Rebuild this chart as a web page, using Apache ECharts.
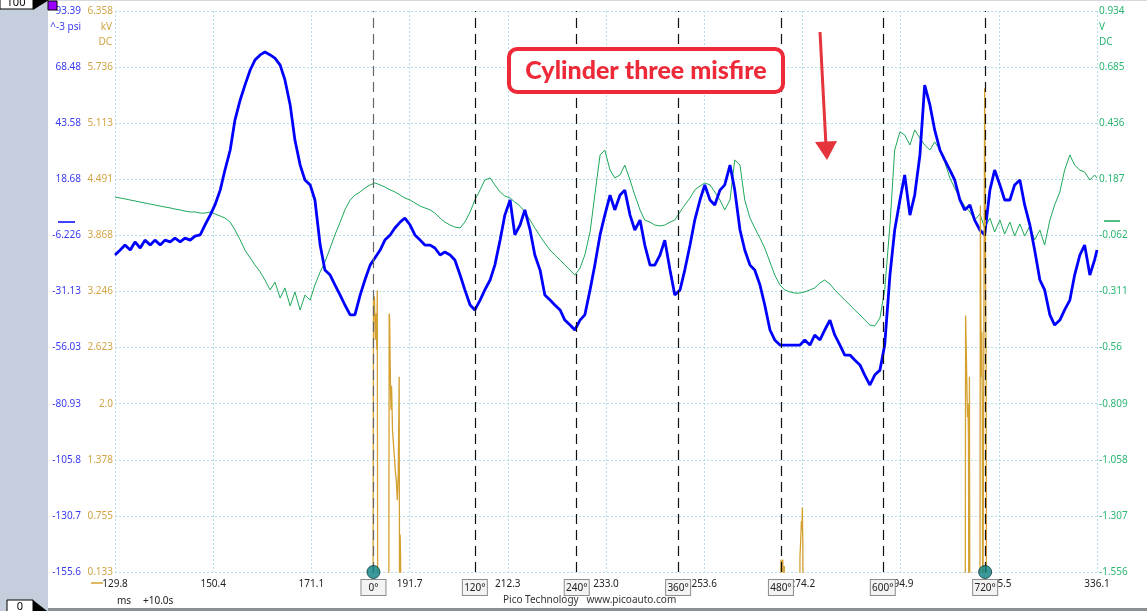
<!DOCTYPE html>
<html>
<head>
<meta charset="utf-8">
<script src="https://cdn.jsdelivr.net/npm/echarts@6/dist/echarts.min.js"></script>
<style>
html,body{margin:0;padding:0;background:#fff;}
#c{width:1147px;height:611px;}
</style>
</head>
<body>
<div id="c"></div>
<script>
// ---------- DATA ----------
const xTickLabels = ['129.8','150.4','171.1','191.7','212.3','233.0','253.6','274.2','294.9','315.5','336.1'];
const psiTickLabels = ['-155.6','-130.7','-105.8','-80.93','-56.03','-31.13','-6.226','18.68','43.58','68.48','93.39'];
const kvTickLabels = ['0.133','0.755','1.378','2.0','2.623','3.246','3.868','4.491','5.113','5.736','6.358'];
const vTickLabels = ['-1.556','-1.307','-1.058','-0.809','-0.56','-0.311','-0.062','0.187','0.436','0.685','0.934'];

const degreeLabels = ['0°','120°','240°','360°','480°','600°','720°'];
const degreeMs = [184.1, 205.4, 226.8, 248.1, 269.7, 291.1, 312.6];
const tdcMs = [184.1, 312.6];

const timesMs = [129.8,130.9,131.9,133.0,134.0,135.1,136.1,137.2,138.2,139.3,140.3,141.4,142.4,143.5,144.5,145.6,146.6,147.7,148.7,149.8,150.8,151.9,152.9,154.0,155.0,156.1,157.1,158.2,159.2,160.3,161.3,162.4,163.4,164.5,165.5,166.6,167.6,168.7,169.7,170.8,171.8,172.9,173.9,175.0,176.0,177.1,178.1,179.2,180.2,181.3,182.3,183.4,184.4,185.5,186.5,187.6,188.6,189.7,190.7,191.8,192.8,193.9,194.9,196.0,197.0,198.1,199.1,200.2,201.2,202.3,203.3,204.4,205.4,206.5,207.5,208.6,209.6,210.7,211.7,212.8,213.8,214.9,215.9,217.0,218.0,219.1,220.1,221.2,222.2,223.3,224.3,225.4,226.4,227.5,228.5,229.6,230.6,231.7,232.7,233.8,234.8,235.9,236.9,238.0,239.0,240.1,241.1,242.2,243.2,244.3,245.3,246.4,247.4,248.5,249.5,250.6,251.6,252.7,253.7,254.8,255.8,256.9,257.9,259.0,260.0,261.1,262.1,263.2,264.2,265.3,266.3,267.4,268.4,269.5,270.5,271.6,272.6,273.7,274.7,275.8,276.8,277.9,278.9,280.0,281.0,282.1,283.1,284.2,285.2,286.3,287.3,288.4,289.4,290.5,291.5,292.6,293.6,294.7,295.7,296.8,297.8,298.9,299.9,301.0,302.0,303.1,304.1,305.2,306.2,307.3,308.3,309.4,310.4,311.5,312.5,313.6,314.6,315.7,316.7,317.8,318.8,319.9,320.9,322.0,323.0,324.1,325.1,326.2,327.2,328.3,329.3,330.4,331.4,332.5,333.5,334.6,335.6,336.1];

const pressurePsi = [-14.9,-12.7,-10.5,-12.7,-9.1,-11.8,-8.3,-10.5,-8.3,-10.5,-8.3,-9.1,-7.4,-9.1,-7.4,-8.3,-6.5,
 -6.0,-1.6,2.8,7.3,13.9,22.8,31.7,45.0,53.9,60.5,67.2,71.6,73.9,75.2,
 73.9,72.5,69.4,62.8,51.7,36.1,25.0,18.4,16.2,9.5,
 -10.5,-21.6,-23.8,-28.2,-32.7,-37.1,-41.5,-41.5,-32.7,-26.0,
 -19.4,-16.2,-12.7,-8.3,-6.0,-2.9,-0.3,1.5,-1.6,-6.0,
 -8.3,-10.5,-10.5,-11.8,-14.9,-13.6,-14.9,-17.1,-23.8,-30.4,
 -37.1,-39.3,-34.9,-30.4,-26.0,-19.4,-8.3,2.8,9.5,-6.0,
 -1.6,5.1,-3.8,-14.9,-21.6,-32.7,-34.9,-37.1,-39.3,-43.8,
 -46.0,-48.2,-43.8,-41.5,-30.4,-19.4,-6.0,2.8,11.7,5.1,
 11.7,13.9,2.8,-3.8,0.6,-10.5,-19.4,-19.4,-14.9,-8.3,
 -21.6,-32.7,-30.4,-21.6,-10.5,0.6,9.5,16.2,9.5,7.3,
 13.9,16.2,25.0,13.9,-3.8,-12.7,-19.4,-21.6,-28.2,-37.1,
 -48.2,-52.6,-54.9,-54.9,-54.9,-54.9,-54.9,-52.6,-54.9,-50.4,
 -52.6,-48.2,-43.8,-50.4,-54.9,-59.3,-59.3,-61.5,-63.7,-68.2,
 -72.6,-68.2,-66.0,-54.9,-23.8,-3.8,9.5,20.6,2.8,11.7,
 29.5,60.5,51.7,40.6,31.7,27.3,22.8,18.4,9.5,5.1,
 7.3,0.6,-3.8,-6.0,13.9,22.8,16.2,9.5,9.5,16.2,
 18.4,7.3,-1.6,-12.7,-26.0,-30.4,-41.5,-46.0,-43.8,-39.3,
 -34.9,-23.8,-14.9,-10.5,-23.8,-17.1,
 -12.7];

const sensorV = [0.108,0.104,0.100,0.095,0.091,0.086,0.082,0.077,0.073,0.068,0.064,0.060,0.055,0.051,0.046,0.042,0.042,
 0.037,0.037,0.042,0.033,0.024,0.015,-0.003,-0.038,-0.082,-0.127,-0.162,-0.193,-0.224,-0.260,
 -0.304,-0.269,-0.340,-0.295,-0.375,-0.313,-0.393,-0.327,-0.349,-0.282,
 -0.224,-0.180,-0.118,-0.060,-0.003,0.051,0.095,0.117,0.131,0.148,
 0.162,0.171,0.162,0.153,0.140,0.131,0.117,0.104,0.095,0.082,
 0.068,0.060,0.051,0.037,0.015,-0.003,-0.016,-0.025,-0.029,-0.003,
 0.042,0.095,0.140,0.184,0.193,0.162,0.131,0.113,0.104,0.086,
 0.068,0.042,0.006,-0.029,-0.065,-0.096,-0.127,-0.149,-0.171,-0.193,
 -0.216,-0.238,-0.207,-0.149,-0.047,0.117,0.295,0.317,0.228,0.193,
 0.206,0.250,0.184,0.117,0.051,0.006,-0.003,-0.016,-0.020,-0.016,
 -0.003,0.006,0.042,0.073,0.104,0.140,0.157,0.171,0.162,0.131,
 0.095,0.051,0.095,0.273,0.250,0.095,0.015,-0.029,-0.074,-0.118,
 -0.180,-0.238,-0.282,-0.304,-0.313,-0.318,-0.318,-0.313,-0.304,-0.295,
 -0.273,-0.260,-0.278,-0.304,-0.327,-0.349,-0.371,-0.393,-0.415,-0.437,
 -0.460,-0.464,-0.429,-0.304,-0.016,0.317,0.397,0.384,0.339,0.406,
 0.370,0.339,0.317,0.353,0.317,0.264,0.193,0.148,0.104,0.068,
 0.042,0.006,0.033,-0.029,0.015,-0.047,0.006,-0.056,-0.003,-0.065,
 -0.011,-0.065,-0.020,-0.082,-0.038,-0.105,0.006,0.073,0.131,0.228,
 0.295,0.250,0.228,0.219,0.184,0.206,
 0.193];

const ignitionMs = [129.8,184.0,184.1,184.3,184.4,184.5,184.6,184.8,184.9,185.0,
 187.3,187.4,187.5,187.6,187.7,187.8,187.9,188.1,188.3,188.5,188.7,188.9,189.1,189.3,189.5,189.6,189.7,189.8,189.9,
 269.6,269.7,269.9,270.1,270.2,270.4,270.5,
 273.6,273.7,273.9,274.0,274.1,274.2,274.3,274.4,
 308.4,308.5,308.6,308.7,308.8,308.9,309.0,309.1,309.2,309.3,309.4,
 311.5,311.6,311.7,311.8,311.9,312.0,312.1,
 312.4,312.5,312.6,312.7,312.8,312.9,336.1];
const ignitionKv = [-1,-1,3.15,3.19,2.93,2.71,3.0,2.6,3.26,-1,
 -1,3.0,2.93,2.5,2.1,1.93,2.2,1.71,1.55,1.40,1.25,1.15,0.93,1.2,2.3,-1,0.55,0.3,-1,
 -1,0.27,0.2,0.27,-1,0.2,-1,
 -1,0.3,0.55,0.7,0.6,0.85,0.45,-1,
 -1,2.98,2.7,2.4,2.1,1.85,2.0,1.6,-1,2.3,-1,
 -1,4.2,3.0,2.3,2.8,2.0,-1,
 -1,5.5,4.6,3.4,2.5,-1,-1];

// ---------- CHART ----------
const FONT = "'Noto Sans', 'DejaVu Sans', sans-serif";
const zip = (a, b) => a.map((v, i) => [v, b[i]]);
const gridLine = {show: true, lineStyle: {color: '#b5dde8', type: [2, 2], width: 1}};

const chart = echarts.init(document.getElementById('c'), null, {renderer: 'canvas', width: 1147, height: 611});

const option = {
  animation: false,
  backgroundColor: '#ffffff',
  grid: {left: 115, right: 50, top: 11, bottom: 39},
  xAxis: [
    {type: 'value', min: 129.8, max: 336.1, show: false},
    {type: 'value', min: 0, max: 10, interval: 1, position: 'bottom',
     axisLine: {show: false}, axisTick: {show: false}, splitLine: gridLine,
     axisLabel: {formatter: v => xTickLabels[Math.round(v)], color: '#222', fontSize: 10, fontFamily: FONT, margin: 7}}
  ],
  yAxis: [
    {type: 'value', min: -155.6, max: 93.39, show: false},
    {type: 'value', min: 0.133, max: 6.358, show: false},
    {type: 'value', min: -1.556, max: 0.934, show: false},
    {type: 'value', min: 0, max: 10, interval: 1, position: 'left', offset: 32,
     axisLine: {show: false}, axisTick: {show: false}, splitLine: {show: false},
     axisLabel: {formatter: v => psiTickLabels[Math.round(v)], color: '#3a3af0', fontSize: 10, fontFamily: FONT, margin: 2}},
    {type: 'value', min: 0, max: 10, interval: 1, position: 'left', offset: 0,
     axisLine: {show: false}, axisTick: {show: false}, splitLine: gridLine,
     axisLabel: {formatter: v => kvTickLabels[Math.round(v)], color: '#d2a546', fontSize: 10, fontFamily: FONT, margin: 2}},
    {type: 'value', min: 0, max: 10, interval: 1, position: 'right', offset: 0,
     axisLine: {show: false}, axisTick: {show: false}, splitLine: {show: false},
     axisLabel: {formatter: v => vTickLabels[Math.round(v)], color: '#2bb673', fontSize: 10, fontFamily: FONT, margin: 2}}
  ],
  series: [
    {type: 'line', name: 'V', xAxisIndex: 0, yAxisIndex: 2, data: zip(timesMs, sensorV),
     showSymbol: false, symbol: 'none', lineStyle: {color: '#1fa85a', width: 1}, z: 2, silent: true},
    {type: 'line', name: 'psi', xAxisIndex: 0, yAxisIndex: 0, data: zip(timesMs, pressurePsi),
     showSymbol: false, symbol: 'none', lineStyle: {color: '#0000ff', width: 2.8}, z: 3, silent: true,
     markLine: {
       silent: true, symbol: ['none', 'none'], animation: false,
       lineStyle: {color: '#111', type: [10, 6], width: 1.2},
       label: {show: true, position: 'start', distance: 8, fontSize: 10, fontFamily: FONT, color: '#222',
               backgroundColor: '#f3f3f3', borderColor: '#8c8c8c', borderWidth: 1, padding: [3, 3, 2, 3],
               width: 18, align: 'center'},
       data: degreeMs.map((v, i) => ({xAxis: v,
         lineStyle: i === 0 ? {color: '#666'} : {},
         label: {formatter: degreeLabels[i]}}))
     }},
    {type: 'line', name: 'kV', xAxisIndex: 0, yAxisIndex: 1, data: zip(ignitionMs, ignitionKv),
     showSymbol: false, symbol: 'none', lineStyle: {color: '#d4a030', width: 1.3}, z: 4, silent: true},
    {type: 'scatter', xAxisIndex: 0, yAxisIndex: 0, data: tdcMs.map(v => [v, -155.6]), clip: false,
     symbol: 'circle', symbolSize: 13, itemStyle: {color: '#0a7f82', borderColor: '#0b3b3d', borderWidth: 1}, z: 6, silent: true}
  ],
  graphic: [
    {type: 'rect', shape: {x: 0, y: 0, width: 48, height: 611}, style: {fill: '#c5cedc'}, z: 10},
    {type: 'rect', shape: {x: 0, y: -2, width: 33, height: 11}, style: {fill: '#fff', stroke: '#000', lineWidth: 1}, z: 11},
    {type: 'text', style: {x: 16, y: 3, text: '100', fontSize: 11, fontFamily: FONT, fill: '#000', align: 'center', verticalAlign: 'middle'}, z: 12},
    {type: 'polygon', shape: {points: [[33, 0], [49, 0], [33, 10]]}, style: {fill: '#000'}, z: 11},
    {type: 'rect', shape: {x: 48, y: 1, width: 9, height: 9}, style: {fill: '#9b00ff', stroke: '#000', lineWidth: 1}, z: 11},
    {type: 'rect', shape: {x: 7, y: 600, width: 26, height: 14}, style: {fill: '#fff', stroke: '#000', lineWidth: 1}, z: 11},
    {type: 'text', style: {x: 20, y: 607, text: '0', fontSize: 11, fontFamily: FONT, fill: '#000', align: 'center', verticalAlign: 'middle'}, z: 12},
    {type: 'polygon', shape: {points: [[33, 600], [33, 611], [47, 611]]}, style: {fill: '#000'}, z: 11},
    {type: 'rect', shape: {x: 48, y: 0, width: 1099, height: 1}, style: {fill: '#d5d8dc'}, z: 9},
    {type: 'rect', shape: {x: 48, y: 608, width: 1099, height: 3}, style: {fill: '#8a8f95'}, z: 9},
    {type: 'text', style: {x: 81, y: 27, text: '^-3 psi', fontSize: 10, fontFamily: FONT, fill: '#3a3af0', align: 'right', verticalAlign: 'middle'}},
    {type: 'text', style: {x: 112, y: 27, text: 'kV', fontSize: 10, fontFamily: FONT, fill: '#d2a546', align: 'right', verticalAlign: 'middle'}},
    {type: 'text', style: {x: 112, y: 42, text: 'DC', fontSize: 10, fontFamily: FONT, fill: '#d2a546', align: 'right', verticalAlign: 'middle'}},
    {type: 'text', style: {x: 1099, y: 27, text: 'V', fontSize: 10, fontFamily: FONT, fill: '#2bb673', align: 'left', verticalAlign: 'middle'}},
    {type: 'text', style: {x: 1099, y: 42, text: 'DC', fontSize: 10, fontFamily: FONT, fill: '#2bb673', align: 'left', verticalAlign: 'middle'}},
    {type: 'line', shape: {x1: 58, y1: 222, x2: 75, y2: 222}, style: {stroke: '#0000ff', lineWidth: 1.5}},
    {type: 'line', shape: {x1: 1104, y1: 221, x2: 1120, y2: 221}, style: {stroke: '#1fa85a', lineWidth: 1.5}},
    {type: 'line', shape: {x1: 91, y1: 583, x2: 103, y2: 583}, style: {stroke: '#d4a030', lineWidth: 1.5}},
    {type: 'text', style: {x: 117, y: 601, text: 'ms', fontSize: 10, fontFamily: FONT, fill: '#222', align: 'left', verticalAlign: 'middle'}},
    {type: 'text', style: {x: 143, y: 601, text: '+10.0s', fontSize: 10, fontFamily: FONT, fill: '#222', align: 'left', verticalAlign: 'middle'}},
    {type: 'text', style: {x: 503, y: 600, text: 'Pico Technology   www.picoauto.com', fontSize: 10, fontFamily: FONT, fill: '#333', align: 'left', verticalAlign: 'middle'}, z: 8},
    {type: 'rect', shape: {x: 509, y: 49, width: 274, height: 43, r: 8}, style: {fill: '#fff', stroke: '#ee2a38', lineWidth: 4}, z: 20},
    {type: 'text', style: {x: 646, y: 71, text: 'Cylinder three misfire', font: "900 25px Lato, 'Noto Sans', sans-serif", fill: '#ee2a38', align: 'center', verticalAlign: 'middle'}, z: 21},
    {type: 'line', shape: {x1: 820, y1: 32, x2: 826, y2: 146}, style: {stroke: '#e5343c', lineWidth: 3}, z: 20},
    {type: 'polygon', shape: {points: [[815, 142], [837, 141], [827, 160]]}, style: {fill: '#e5343c'}, z: 20}
  ]
};
chart.setOption(option);
</script>
</body>
</html>
